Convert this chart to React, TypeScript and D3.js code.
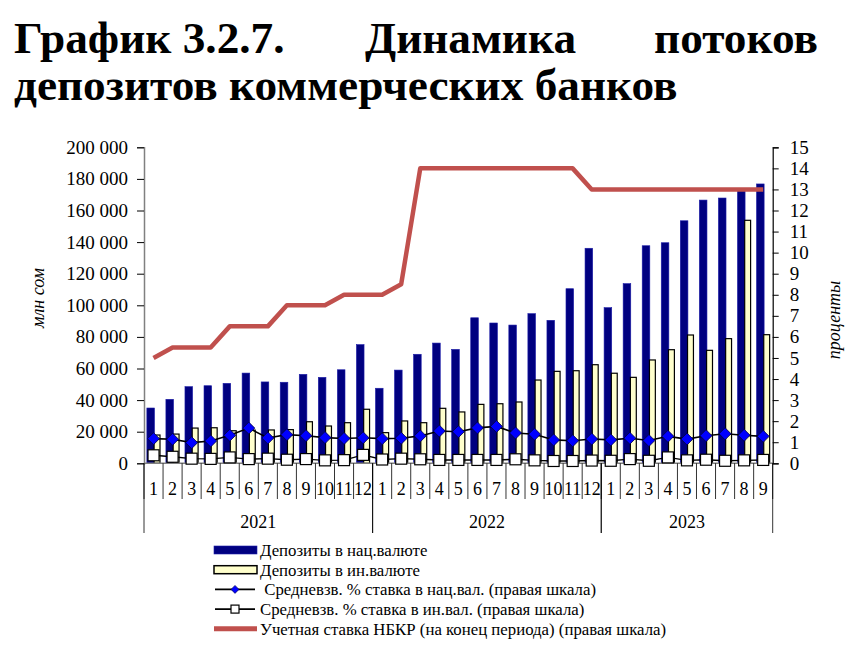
import React, { useEffect, useRef } from "react";
import * as d3 from "d3";

// months along the x axis, grouped by year
const years = ["2021", "2022", "2023"];
const monthsPerYear = [12, 12, 9];
const monthLabels = [
    "1", "2", "3", "4", "5", "6", "7", "8", "9", "10", "11", "12",
    "1", "2", "3", "4", "5", "6", "7", "8", "9", "10", "11", "12",
    "1", "2", "3", "4", "5", "6", "7", "8", "9",
];

// deposits, mln som (left axis)
const depNat = [
    35000, 40500, 48500, 49100, 50600, 57100, 51500, 51300, 56300, 54400, 59200, 75100,
    47500, 59000, 69000, 76100, 72100, 92100, 88800, 87500, 94700, 90500, 110500, 136100,
    98500, 113700, 137700, 139600, 153500, 166600, 167900, 173000, 176800,
];
const depFor = [
    17900, 18500, 22300, 22500, 20600, 21000, 21100, 21300, 26300, 23600, 25700, 34200,
    19400, 26800, 25700, 34800, 32500, 37300, 37700, 38800, 52700, 58200, 58600, 62400,
    57000, 54400, 65400, 71900, 81200, 71500, 78900, 153800, 81400,
];

// rates, % (right axis)
const rateNat = [
    1.17, 1.14, 0.98, 1.06, 1.33, 1.67, 1.2, 1.36, 1.31, 1.22, 1.18, 1.21,
    1.17, 1.19, 1.3, 1.53, 1.5, 1.68, 1.75, 1.44, 1.38, 1.11, 1.07, 1.15,
    1.11, 1.19, 1.08, 1.28, 1.15, 1.31, 1.4, 1.33, 1.28,
];
const rateFor = [
    0.38, 0.31, 0.22, 0.21, 0.28, 0.2, 0.22, 0.17, 0.2, 0.14, 0.15, 0.4,
    0.18, 0.22, 0.19, 0.16, 0.16, 0.16, 0.16, 0.19, 0.14, 0.11, 0.11, 0.13,
    0.12, 0.2, 0.12, 0.28, 0.14, 0.17, 0.12, 0.14, 0.16,
];
const discountRate = [
    5, 5.5, 5.5, 5.5, 6.5, 6.5, 6.5, 7.5, 7.5, 7.5, 8, 8,
    8, 8.5, 14, 14, 14, 14, 14, 14, 14, 14, 14, 13,
    13, 13, 13, 13, 13, 13, 13, 13, 13,
];

const leftTicks = d3.range(0, 200001, 20000);
const rightTicks = d3.range(0, 16, 1);

const legendItems = [
    "Депозиты в нац.валюте",
    "Депозиты в ин.валюте",
    " Средневзв. % ставка в нац.вал. (правая шкала)",
    "Средневзв. % ставка в ин.вал. (правая шкала)",
    "Учетная ставка НБКР (на конец периода) (правая шкала)",
];

const FONT = "'Liberation Serif', 'Times New Roman', serif";

const App = () => {
    const ref = useRef(null);

    useEffect(() => {
        document.body.style.margin = "0";
        const svg = d3.select(ref.current);
        svg.selectAll("*").remove();

        const width = 858;
        const height = 648;
        const plot = { left: 144, right: 772.7, top: 147.3, bottom: 463.3 };
        svg.attr("width", width).attr("height", height).style("font-family", FONT);

        // title
        const title = svg.append("g").attr("font-weight", "bold").attr("font-size", 45.3).attr("fill", "#000");
        title.append("text").attr("x", 14).attr("y", 53).text("График 3.2.7.");
        title.append("text").attr("x", 365).attr("y", 53).text("Динамика");
        title.append("text").attr("x", 818).attr("y", 53).attr("text-anchor", "end").text("потоков");
        title.append("text").attr("x", 14).attr("y", 100).text("депозитов коммерческих банков");

        // scales
        const idx = monthLabels.map((_, i) => i);
        const x = d3.scaleBand().domain(idx).range([plot.left, plot.right]).padding(0);
        const bw = x.bandwidth();
        const yL = d3.scaleLinear().domain([0, 200000]).range([plot.bottom, plot.top]);
        const yR = d3.scaleLinear().domain([0, 15]).range([plot.bottom, plot.top]);
        const cx = (i) => x(i) + bw / 2;

        // bars
        svg.append("g")
            .selectAll("rect")
            .data(depNat)
            .join("rect")
            .attr("x", (d, i) => x(i) + bw * 0.15)
            .attr("y", (d) => yL(d))
            .attr("width", bw * 0.4)
            .attr("height", (d) => yL(0) - yL(d))
            .attr("fill", "#000080")
            .attr("stroke", "#1c1ca8")
            .attr("stroke-width", 0.6);

        svg.append("g")
            .selectAll("rect")
            .data(depFor)
            .join("rect")
            .attr("x", (d, i) => x(i) + bw * 0.53)
            .attr("y", (d) => yL(d))
            .attr("width", bw * 0.31)
            .attr("height", (d) => yL(0) - yL(d))
            .attr("fill", "#FFFFCC")
            .attr("stroke", "#000")
            .attr("stroke-width", 1.2);

        // x axis line
        svg.append("line")
            .attr("x1", plot.left).attr("x2", plot.right)
            .attr("y1", plot.bottom).attr("y2", plot.bottom)
            .attr("stroke", "#808080").attr("stroke-width", 1.5);

        // discount rate
        const line = d3.line().x((d, i) => cx(i)).y((d) => yR(d));
        svg.append("path")
            .datum(discountRate)
            .attr("d", line)
            .attr("fill", "none")
            .attr("stroke", "#C0504D")
            .attr("stroke-width", 4.5)
            .attr("stroke-linejoin", "round");

        // national currency rate
        svg.append("path")
            .datum(rateNat)
            .attr("d", line)
            .attr("fill", "none")
            .attr("stroke", "#000")
            .attr("stroke-width", 1.6);
        const diamond = (s) => `M0,${-s}L${s},0L0,${s}L${-s},0Z`;
        svg.append("g")
            .selectAll("path")
            .data(rateNat)
            .join("path")
            .attr("d", diamond(6))
            .attr("transform", (d, i) => `translate(${cx(i)},${yR(d)})`)
            .attr("fill", "#0000FF")
            .attr("stroke", "#000040")
            .attr("stroke-width", 0.8);

        // foreign currency rate
        svg.append("path")
            .datum(rateFor)
            .attr("d", line)
            .attr("fill", "none")
            .attr("stroke", "#000")
            .attr("stroke-width", 1.4);
        svg.append("g")
            .selectAll("rect")
            .data(rateFor)
            .join("rect")
            .attr("x", (d, i) => cx(i) - 5.5)
            .attr("y", (d) => yR(d) - 5.5)
            .attr("width", 11)
            .attr("height", 11)
            .attr("fill", "#fff")
            .attr("stroke", "#000")
            .attr("stroke-width", 1.2);

        // left axis
        const fmt = (d) => d3.format(",")(d).replace(/,/g, " ");
        const gL = svg.append("g")
            .attr("transform", `translate(${plot.left},0)`)
            .call(d3.axisLeft(yL).tickValues(leftTicks).tickSize(7).tickPadding(9).tickFormat(fmt));
        gL.attr("font-family", FONT);
        gL.select(".domain").attr("stroke", "#808080").attr("stroke-width", 1.5);
        gL.selectAll(".tick line").attr("stroke", "#000");
        gL.selectAll("text").attr("font-size", 19).attr("fill", "#000");

        // right axis
        const gR = svg.append("g")
            .attr("transform", `translate(${plot.right},0)`)
            .call(d3.axisRight(yR).tickValues(rightTicks).tickSize(6).tickPadding(11));
        gR.attr("font-family", FONT);
        gR.select(".domain").attr("stroke", "#000").attr("stroke-width", 1.2);
        gR.selectAll("text").attr("font-size", 19).attr("fill", "#000");

        // axis titles
        svg.append("text")
            .attr("transform", "translate(44,298) rotate(-90)")
            .attr("text-anchor", "middle")
            .attr("font-style", "italic")
            .attr("font-size", 18)
            .text("млн сом");
        svg.append("text")
            .attr("transform", "translate(840,320) rotate(-90)")
            .attr("text-anchor", "middle")
            .attr("font-style", "italic")
            .attr("font-size", 18)
            .text("проценты");

        // category ticks and month labels
        const xa = svg.append("g");
        idx.concat([idx.length]).forEach((i) => {
            const xx = i < idx.length ? x(i) : plot.right;
            xa.append("line")
                .attr("x1", xx).attr("x2", xx)
                .attr("y1", plot.bottom).attr("y2", 499)
                .attr("stroke", "#000").attr("stroke-width", 0.8);
        });
        xa.selectAll("text.m")
            .data(monthLabels)
            .join("text")
            .attr("class", "m")
            .attr("x", (d, i) => cx(i))
            .attr("y", 495)
            .attr("text-anchor", "middle")
            .attr("font-size", 18)
            .text((d) => d);

        // year groups
        let start = 0;
        years.forEach((yr, k) => {
            const end = start + monthsPerYear[k];
            const x0 = x(start);
            const x1 = end < idx.length ? x(end) : plot.right;
            [x0, x1].forEach((xx) =>
                xa.append("line")
                    .attr("x1", xx).attr("x2", xx)
                    .attr("y1", plot.bottom).attr("y2", 533)
                    .attr("stroke", "#000").attr("stroke-width", 0.8)
            );
            xa.append("text")
                .attr("x", (x0 + x1) / 2)
                .attr("y", 528)
                .attr("text-anchor", "middle")
                .attr("font-size", 18)
                .text(yr);
            start = end;
        });

        // legend
        const lg = svg.append("g").attr("font-size", 16.8);
        const rowY = (i) => 550 + i * 19.7;
        lg.append("rect").attr("x", 214).attr("y", rowY(0) - 4).attr("width", 43).attr("height", 8)
            .attr("fill", "#000080").attr("stroke", "#1c1ca8").attr("stroke-width", 0.6);
        lg.append("rect").attr("x", 214).attr("y", rowY(1) - 4).attr("width", 43).attr("height", 8)
            .attr("fill", "#FFFFCC").attr("stroke", "#000").attr("stroke-width", 1.5);
        lg.append("line").attr("x1", 215).attr("x2", 255).attr("y1", rowY(2)).attr("y2", rowY(2))
            .attr("stroke", "#000").attr("stroke-width", 1.6);
        lg.append("path").attr("d", diamond(4)).attr("transform", `translate(235,${rowY(2)})`)
            .attr("fill", "#0000FF").attr("stroke", "#000040").attr("stroke-width", 0.6);
        lg.append("line").attr("x1", 215).attr("x2", 255).attr("y1", rowY(3)).attr("y2", rowY(3))
            .attr("stroke", "#000").attr("stroke-width", 1.6);
        lg.append("rect").attr("x", 231).attr("y", rowY(3) - 4).attr("width", 8).attr("height", 8)
            .attr("fill", "#fff").attr("stroke", "#000").attr("stroke-width", 1.2);
        lg.append("line").attr("x1", 214).attr("x2", 257).attr("y1", rowY(4)).attr("y2", rowY(4))
            .attr("stroke", "#C0504D").attr("stroke-width", 5);
        lg.selectAll("text")
            .data(legendItems)
            .join("text")
            .attr("x", 260)
            .attr("y", (d, i) => rowY(i) + 6)
            .style("white-space", "pre")
            .text((d) => d);
    }, []);

    return <svg ref={ref}></svg>;
};

export default App;
